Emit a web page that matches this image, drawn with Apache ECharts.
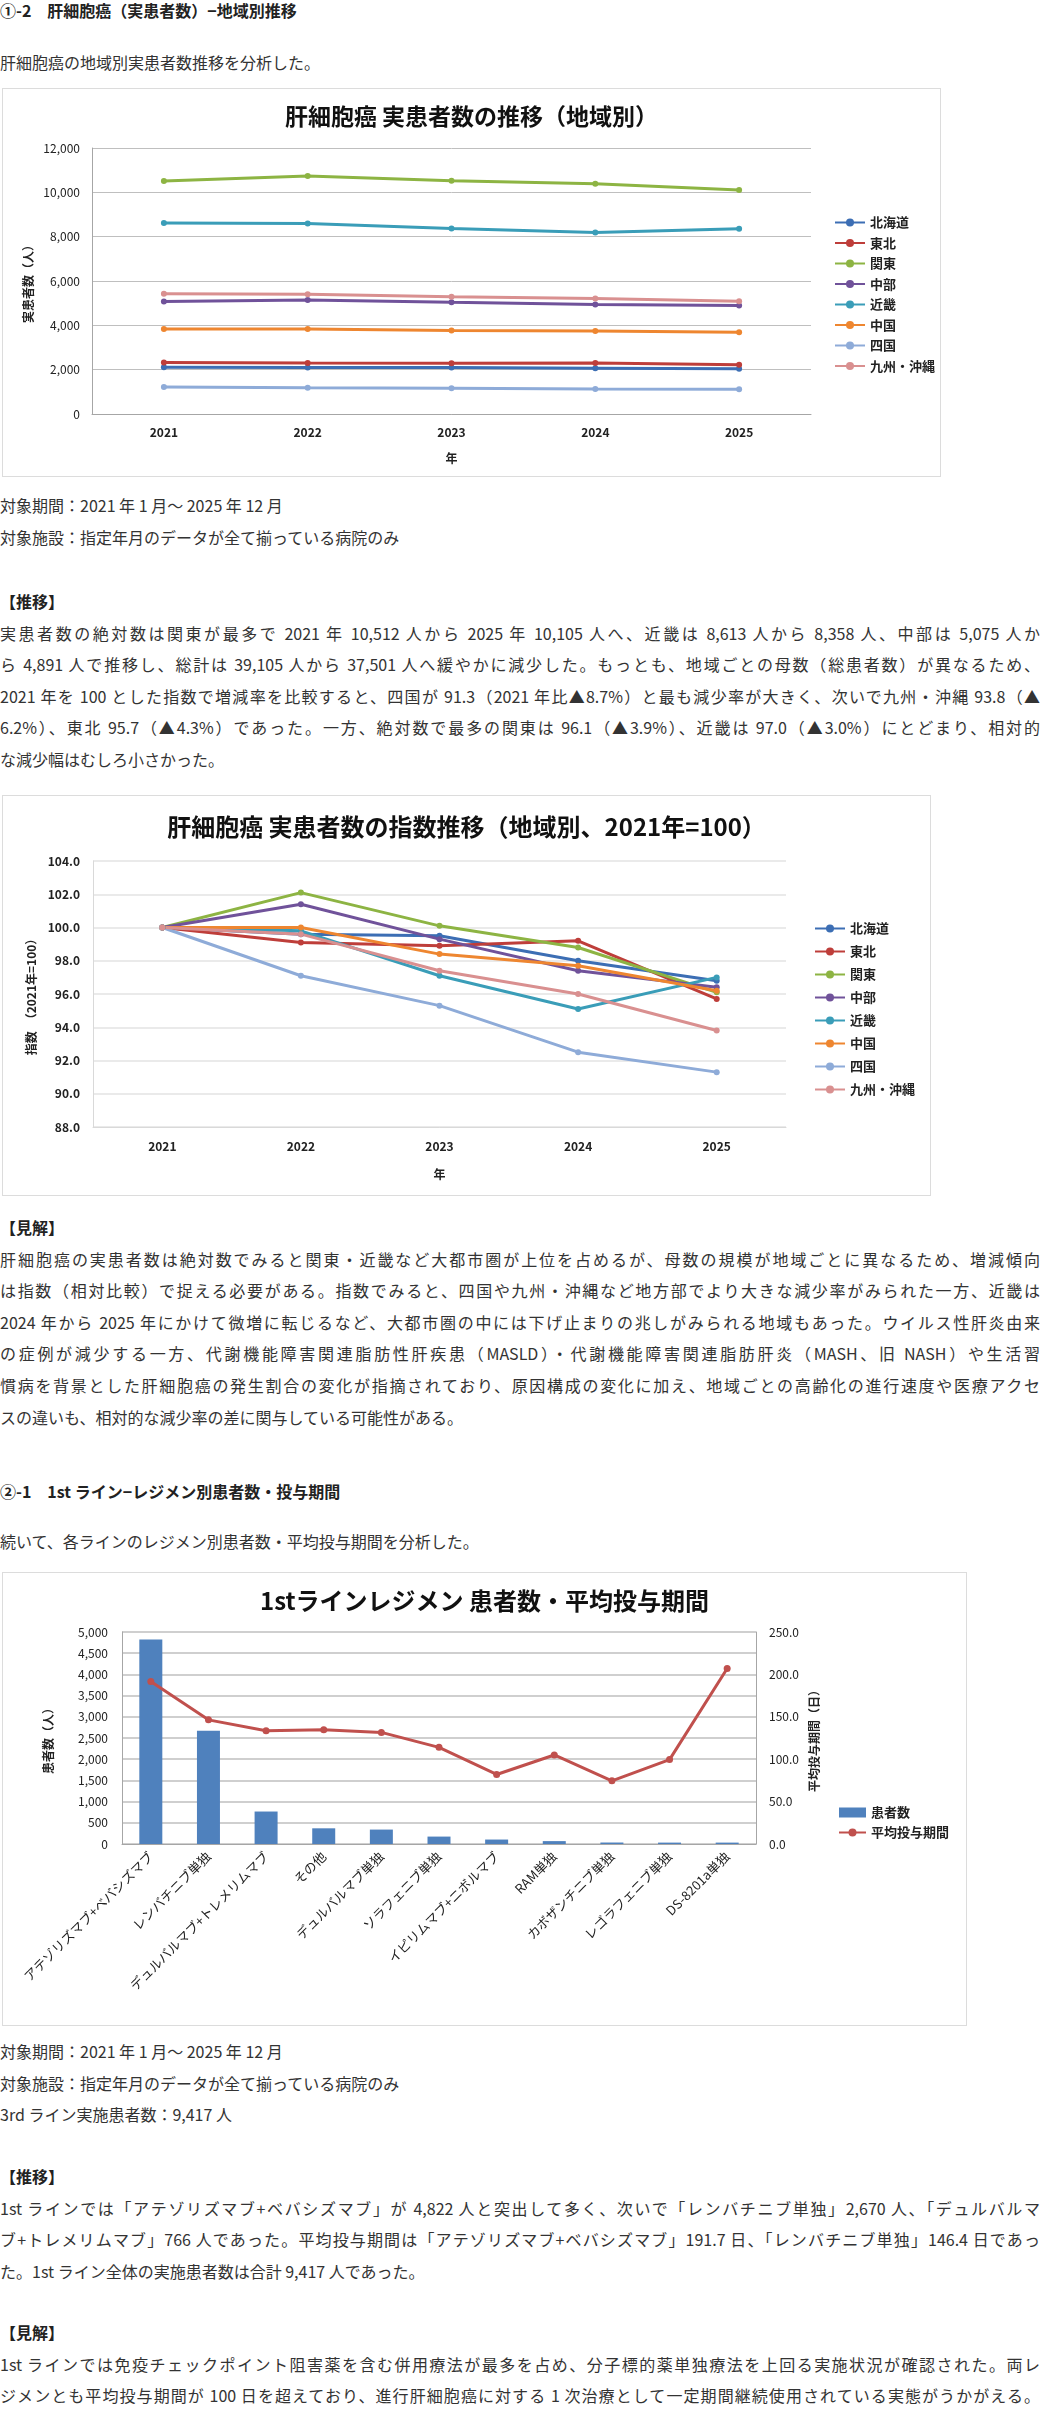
<!DOCTYPE html>
<html>
<head>
<meta charset="utf-8">
<script src="https://cdn.jsdelivr.net/npm/echarts@6.0.0/dist/echarts.min.js"></script>
<style>
body{margin:0;background:#fff;width:1040px;height:2414px;position:relative;overflow:hidden;
  font-family:"Noto Sans CJK JP","Noto Sans",sans-serif;color:#333;font-size:16px;}
.blk{position:absolute;left:0;width:1040px;line-height:31.6px;}
.blk div{white-space:nowrap;}
.blk div.j{text-align:justify;text-align-last:justify;text-justify:inter-character;white-space:normal;}
.b{font-weight:bold;color:#222;}
.box{position:absolute;left:2px;border:1px solid #dcdcdc;box-sizing:border-box;background:#fff;}
</style>
</head>
<body>
<div class="blk b" style="top:0;line-height:20px;">①-2　肝細胞癌（実患者数）−地域別推移</div>
<div class="blk" style="top:47px;">肝細胞癌の地域別実患者数推移を分析した。</div>
<div id="trendchart" class="box" style="top:88px;width:939px;height:389px;"></div>
<div class="blk" style="top:490px;">
  <div>対象期間：2021 年 1 月～ 2025 年 12 月</div>
  <div>対象施設：指定年月のデータが全て揃っている病院のみ</div>
</div>
<div class="blk" style="top:586px;">
  <div class="b">【推移】</div>
  <div class="j">実患者数の絶対数は関東が最多で 2021 年 10,512 人から 2025 年 10,105 人へ、近畿は 8,613 人から 8,358 人、中部は 5,075 人か</div>
  <div class="j">ら 4,891 人で推移し、総計は 39,105 人から 37,501 人へ緩やかに減少した。もっとも、地域ごとの母数（総患者数）が異なるため、</div>
  <div class="j">2021 年を 100 とした指数で増減率を比較すると、四国が 91.3（2021 年比▲8.7%）と最も減少率が大きく、次いで九州・沖縄 93.8（▲</div>
  <div class="j">6.2%）、東北 95.7（▲4.3%）であった。一方、絶対数で最多の関東は 96.1（▲3.9%）、近畿は 97.0（▲3.0%）にとどまり、相対的</div>
  <div>な減少幅はむしろ小さかった。</div>
</div>
<div id="indexchart" class="box" style="top:795px;width:929px;height:401px;"></div>
<div class="blk" style="top:1212px;">
  <div class="b">【見解】</div>
  <div class="j">肝細胞癌の実患者数は絶対数でみると関東・近畿など大都市圏が上位を占めるが、母数の規模が地域ごとに異なるため、増減傾向</div>
  <div class="j">は指数（相対比較）で捉える必要がある。指数でみると、四国や九州・沖縄など地方部でより大きな減少率がみられた一方、近畿は</div>
  <div class="j">2024 年から 2025 年にかけて微増に転じるなど、大都市圏の中には下げ止まりの兆しがみられる地域もあった。ウイルス性肝炎由来</div>
  <div class="j">の症例が減少する一方、代謝機能障害関連脂肪性肝疾患（MASLD）・代謝機能障害関連脂肪肝炎（MASH、旧 NASH）や生活習</div>
  <div class="j">慣病を背景とした肝細胞癌の発生割合の変化が指摘されており、原因構成の変化に加え、地域ごとの高齢化の進行速度や医療アクセ</div>
  <div>スの違いも、相対的な減少率の差に関与している可能性がある。</div>
</div>
<div class="blk b" style="top:1476px;">②-1　1st ライン−レジメン別患者数・投与期間</div>
<div class="blk" style="top:1526px;">続いて、各ラインのレジメン別患者数・平均投与期間を分析した。</div>
<div id="regimenchart" class="box" style="top:1572px;width:965px;height:454px;"></div>
<div class="blk" style="top:2036px;">
  <div>対象期間：2021 年 1 月～ 2025 年 12 月</div>
  <div>対象施設：指定年月のデータが全て揃っている病院のみ</div>
  <div>3rd ライン実施患者数：9,417 人</div>
</div>
<div class="blk" style="top:2161px;">
  <div class="b">【推移】</div>
  <div class="j">1st ラインでは「アテゾリズマブ+ベバシズマブ」が 4,822 人と突出して多く、次いで「レンバチニブ単独」2,670 人、「デュルバルマ</div>
  <div class="j">ブ+トレメリムマブ」766 人であった。平均投与期間は「アテゾリズマブ+ベバシズマブ」191.7 日、「レンバチニブ単独」146.4 日であっ</div>
  <div>た。1st ライン全体の実施患者数は合計 9,417 人であった。</div>
</div>
<div class="blk" style="top:2317px;">
  <div class="b">【見解】</div>
  <div class="j">1st ラインでは免疫チェックポイント阻害薬を含む併用療法が最多を占め、分子標的薬単独療法を上回る実施状況が確認された。両レ</div>
  <div class="j">ジメンとも平均投与期間が 100 日を超えており、進行肝細胞癌に対する 1 次治療として一定期間継続使用されている実態がうかがえる。</div>
</div>

<script>
var FONT = '"Noto Sans CJK JP", "Noto Sans", sans-serif';

// 年・地域
var years = ['2021', '2022', '2023', '2024', '2025'];
var regions = ['北海道', '東北', '関東', '中部', '近畿', '中国', '四国', '九州・沖縄'];
var regionColors = ['#3c6eb4', '#be3e3a', '#8db443', '#70529a', '#3a9db8', '#ee8630', '#8eabd8', '#d99090'];

// 実患者数（人）
var hokkaido = [2110, 2101, 2099, 2068, 2042];
var tohoku   = [2320, 2299, 2293, 2302, 2220];
var kanto    = [10512, 10733, 10523, 10386, 10105];
var chubu    = [5075, 5146, 5041, 4943, 4891];
var kinki    = [8613, 8596, 8363, 8191, 8358];
var chugoku  = [3830, 3830, 3767, 3741, 3685];
var shikoku  = [1220, 1185, 1163, 1129, 1114];
var kyushu   = [5425, 5405, 5285, 5208, 5086];

// 指数（2021年=100）
var idxHokkaido = [100, 99.6, 99.5, 98.0, 96.8];
var idxTohoku   = [100, 99.1, 98.9, 99.2, 95.7];
var idxKanto    = [100, 102.1, 100.1, 98.8, 96.1];
var idxChubu    = [100, 101.4, 99.3, 97.4, 96.4];
var idxKinki    = [100, 99.8, 97.1, 95.1, 97.0];
var idxChugoku  = [100, 100.0, 98.4, 97.7, 96.2];
var idxShikoku  = [100, 97.1, 95.3, 92.5, 91.3];
var idxKyushu   = [100, 99.6, 97.4, 96.0, 93.8];

// 1stラインレジメン
var regimens = ['アテゾリズマブ+ベバシズマブ', 'レンバチニブ単独', 'デュルバルマブ+トレメリムマブ', 'その他',
    'デュルバルマブ単独', 'ソラフェニブ単独', 'イピリムマブ+ニボルマブ', 'RAM単独',
    'カボザンチニブ単独', 'レゴラフェニブ単独', 'DS-8201a単独'];
var patients = [4822, 2670, 766, 370, 340, 175, 105, 68, 35, 33, 33];
var avgDays  = [191.7, 146.4, 133.6, 134.8, 131.6, 114.0, 82.0, 105.0, 74.5, 99.5, 207.0];

function comma(v){
    return v.toLocaleString('en-US');
}

function lineSeries(datas){
    var list = [];
    for(var i = 0;i < regions.length;i++){
        list.push({
            name: regions[i],
            type: 'line',
            symbol: 'circle',
            symbolSize: 6,
            lineStyle: {width: 3},
            data: datas[i]
        });
    }
    return list;
}

function drawTrend(){
    var option = {
        color: regionColors,
        textStyle: {fontFamily: FONT},
        title: {
            text: '肝細胞癌 実患者数の推移（地域別）',
            left: 'center',
            top: 11,
            textStyle: {fontSize: 23, fontWeight: 'bold', color: '#111', fontFamily: FONT}
        },
        legend: {
            orient: 'vertical',
            left: 826,
            top: 122,
            itemWidth: 30,
            itemHeight: 10,
            itemGap: 7.5,
            textStyle: {fontSize: 13, fontWeight: 'bold', color: '#222'},
            data: regions
        },
        grid: {left: 89, top: 59, width: 719, height: 266},
        xAxis: {
            type: 'category',
            data: years,
            name: '年',
            nameLocation: 'middle',
            nameGap: 38,
            nameMoveOverlap: false,
            nameTextStyle: {fontSize: 12, fontWeight: 'bold', color: '#222'},
            axisLine: {lineStyle: {color: '#a6a6a6'}},
            axisTick: {show: false},
            axisLabel: {fontSize: 12, fontWeight: 'bold', color: '#222', margin: 12}
        },
        yAxis: {
            type: 'value',
            min: 0,
            max: 12000,
            interval: 2000,
            name: '実患者数（人）',
            nameLocation: 'middle',
            nameGap: 58,
            nameRotate: 90,
            nameMoveOverlap: false,
            nameTextStyle: {fontSize: 12, fontWeight: 'bold', color: '#222'},
            axisLine: {show: true, lineStyle: {color: '#a6a6a6'}},
            axisTick: {show: false},
            splitLine: {lineStyle: {color: '#bfbfbf'}},
            axisLabel: {fontSize: 12, color: '#222', margin: 12, formatter: comma}
        },
        series: lineSeries([hokkaido, tohoku, kanto, chubu, kinki, chugoku, shikoku, kyushu])
    };
    var dom = document.getElementById('trendchart');
    var myChart = echarts.init(dom);
    myChart.setOption(option, true);
}

function drawIndex(){
    var option = {
        color: regionColors,
        textStyle: {fontFamily: FONT},
        title: {
            text: '肝細胞癌 実患者数の指数推移（地域別、2021年=100）',
            left: 'center',
            top: 14,
            textStyle: {fontSize: 24, fontWeight: 'bold', color: '#111', fontFamily: FONT}
        },
        legend: {
            orient: 'vertical',
            left: 806,
            top: 121,
            itemWidth: 30,
            itemHeight: 10,
            itemGap: 10,
            textStyle: {fontSize: 13, fontWeight: 'bold', color: '#222'},
            data: regions
        },
        grid: {left: 90, top: 65, width: 693, height: 266},
        xAxis: {
            type: 'category',
            data: years,
            name: '年',
            nameLocation: 'middle',
            nameGap: 41,
            nameMoveOverlap: false,
            nameTextStyle: {fontSize: 12, fontWeight: 'bold', color: '#222'},
            axisLine: {lineStyle: {color: '#d9d9d9'}},
            axisTick: {show: false},
            axisLabel: {fontSize: 12, fontWeight: 'bold', color: '#222', margin: 13}
        },
        yAxis: {
            type: 'value',
            min: 88,
            max: 104,
            interval: 2,
            name: '指数　（2021年=100）',
            nameLocation: 'middle',
            nameGap: 56,
            nameRotate: 90,
            nameMoveOverlap: false,
            nameTextStyle: {fontSize: 12, fontWeight: 'bold', color: '#222'},
            axisLine: {show: true, lineStyle: {color: '#d9d9d9'}},
            axisTick: {show: false},
            splitLine: {lineStyle: {color: '#e3e3e3', width: 1.5}},
            axisLabel: {fontSize: 12, fontWeight: 'bold', color: '#222', margin: 13,
                formatter: function(v){ return v.toFixed(1); }}
        },
        series: lineSeries([idxHokkaido, idxTohoku, idxKanto, idxChubu, idxKinki, idxChugoku, idxShikoku, idxKyushu])
    };
    var dom = document.getElementById('indexchart');
    var myChart = echarts.init(dom);
    myChart.setOption(option, true);
}

function drawRegimen(){
    var option = {
        textStyle: {fontFamily: FONT},
        title: {
            text: '1stラインレジメン 患者数・平均投与期間',
            left: 'center',
            top: 11,
            textStyle: {fontSize: 24, fontWeight: 'bold', color: '#111', fontFamily: FONT}
        },
        legend: {
            orient: 'vertical',
            left: 830,
            top: 228,
            itemGap: 7,
            textStyle: {fontSize: 13, fontWeight: 'bold', color: '#222'},
            data: [
                {name: '患者数', icon: 'rect'},
                {name: '平均投与期間'}
            ],
            itemWidth: 27,
            itemHeight: 10
        },
        grid: {left: 119, top: 59, width: 634, height: 212},
        xAxis: {
            type: 'category',
            data: regimens,
            axisLine: {lineStyle: {color: '#a6a6a6'}},
            axisTick: {show: false},
            axisLabel: {interval: 0, rotate: 45, fontSize: 13, color: '#222', margin: 10}
        },
        yAxis: [{
            type: 'value',
            min: 0,
            max: 5000,
            interval: 500,
            name: '患者数（人）',
            nameLocation: 'middle',
            nameGap: 68,
            nameRotate: 90,
            nameMoveOverlap: false,
            nameTextStyle: {fontSize: 12, fontWeight: 'bold', color: '#222'},
            axisLine: {show: true, lineStyle: {color: '#a6a6a6'}},
            axisTick: {show: false},
            splitLine: {lineStyle: {color: '#bfbfbf', width: 1.5}},
            axisLabel: {fontSize: 12, color: '#222', margin: 14, formatter: comma}
        }, {
            type: 'value',
            min: 0,
            max: 250,
            interval: 50,
            position: 'right',
            name: '平均投与期間（日）',
            nameLocation: 'middle',
            nameGap: 52,
            nameRotate: 90,
            nameMoveOverlap: false,
            nameTextStyle: {fontSize: 12, fontWeight: 'bold', color: '#222'},
            axisLine: {show: true, lineStyle: {color: '#a6a6a6'}},
            axisTick: {show: false},
            splitLine: {show: false},
            axisLabel: {fontSize: 12, color: '#222', margin: 13,
                formatter: function(v){ return v.toFixed(1); }}
        }],
        series: [{
            name: '患者数',
            type: 'bar',
            barWidth: 23,
            itemStyle: {color: '#4f81bd'},
            data: patients
        }, {
            name: '平均投与期間',
            type: 'line',
            yAxisIndex: 1,
            symbol: 'circle',
            symbolSize: 7,
            itemStyle: {color: '#c0504d'},
            lineStyle: {width: 3, color: '#c0504d'},
            data: avgDays
        }]
    };
    var dom = document.getElementById('regimenchart');
    var myChart = echarts.init(dom);
    myChart.setOption(option, true);
}

drawTrend();
drawIndex();
drawRegimen();
</script>
</body>
</html>
